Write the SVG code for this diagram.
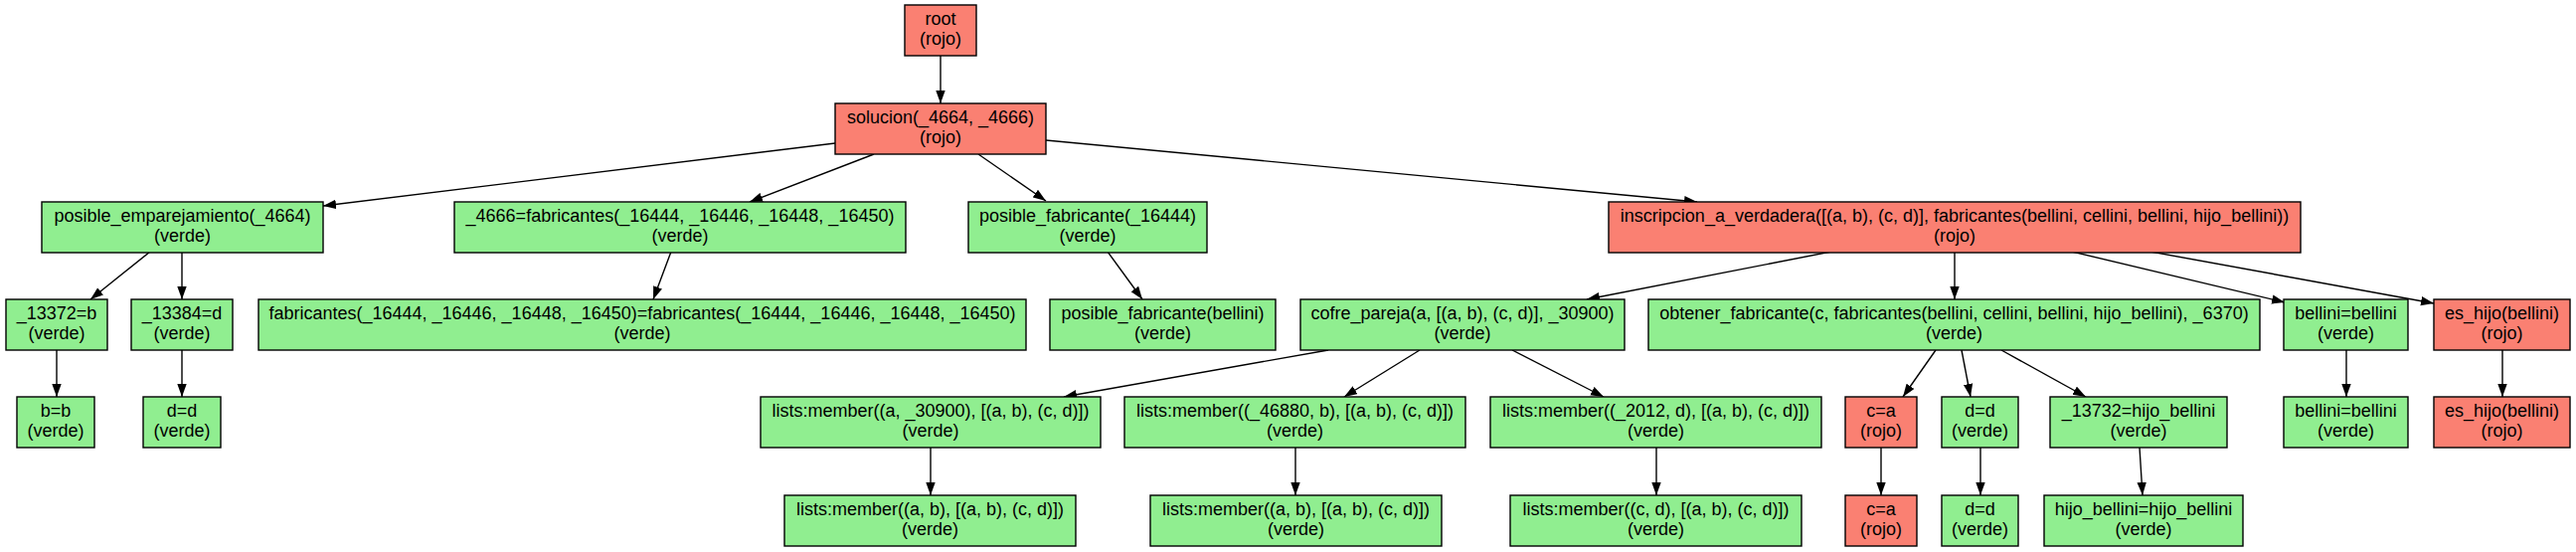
<svg xmlns="http://www.w3.org/2000/svg" width="2591" height="555" viewBox="0 0 2591 555">
<style>
.n rect{stroke:#000;stroke-width:1.4}
.g rect{fill:#90EE90}
.r rect{fill:#FA8072}
text{font-family:"Liberation Sans",Arial,sans-serif;font-size:18px;fill:#000;text-anchor:middle}
.e line{stroke:#000;stroke-width:1.4;marker-end:url(#a)}
</style>
<defs>
<marker id="a" markerUnits="userSpaceOnUse" markerWidth="14" markerHeight="10" refX="13" refY="4.7" orient="auto">
<path d="M0,0 L13,4.7 L0,9.4 z" fill="#000"/>
</marker>
</defs>
<rect width="2591" height="555" fill="#fff"/>
<g class="e">
<line x1="946" y1="56" x2="946" y2="104"/>
<line x1="840" y1="144" x2="325" y2="207"/>
<line x1="879" y1="155" x2="754" y2="203"/>
<line x1="984" y1="155" x2="1052" y2="202"/>
<line x1="1052" y1="141" x2="1707" y2="203"/>
<line x1="151" y1="253" x2="91" y2="301"/>
<line x1="183" y1="253" x2="183" y2="301"/>
<line x1="675" y1="253" x2="657" y2="301"/>
<line x1="1114" y1="253" x2="1149" y2="301"/>
<line x1="1842" y1="253" x2="1596" y2="301"/>
<line x1="1966" y1="253" x2="1966" y2="301"/>
<line x1="2084" y1="253" x2="2298" y2="304"/>
<line x1="2163" y1="253" x2="2448" y2="305"/>
<line x1="57" y1="352" x2="57" y2="399"/>
<line x1="183" y1="352" x2="183" y2="399"/>
<line x1="1336" y1="352" x2="1070" y2="399"/>
<line x1="1428" y1="352" x2="1352" y2="399"/>
<line x1="1521" y1="352" x2="1613" y2="399"/>
<line x1="1947" y1="352" x2="1914" y2="399"/>
<line x1="1973" y1="352" x2="1982" y2="399"/>
<line x1="2013" y1="352" x2="2098" y2="399"/>
<line x1="2360" y1="352" x2="2360" y2="399"/>
<line x1="2517" y1="352" x2="2517" y2="399"/>
<line x1="936" y1="450" x2="936" y2="498"/>
<line x1="1303" y1="450" x2="1303" y2="498"/>
<line x1="1666" y1="450" x2="1666" y2="498"/>
<line x1="1892" y1="450" x2="1892" y2="498"/>
<line x1="1992" y1="450" x2="1992" y2="498"/>
<line x1="2152" y1="450" x2="2155" y2="498"/>
</g>
<g id="root" class="n r"><rect x="910" y="5" width="72" height="51"/><text x="946" y="25">root</text><text x="946" y="45">(rojo)</text></g>
<g id="solucion" class="n r"><rect x="840" y="104" width="212" height="51"/><text x="946" y="124">solucion(_4664, _4666)</text><text x="946" y="144">(rojo)</text></g>
<g id="pe" class="n g"><rect x="42" y="203" width="283" height="51"/><text x="183.5" y="223">posible_emparejamiento(_4664)</text><text x="183.5" y="243">(verde)</text></g>
<g id="f4666" class="n g"><rect x="457" y="203" width="454" height="51"/><text x="684" y="223">_4666=fabricantes(_16444, _16446, _16448, _16450)</text><text x="684" y="243">(verde)</text></g>
<g id="pf16444" class="n g"><rect x="974" y="203" width="240" height="51"/><text x="1094" y="223">posible_fabricante(_16444)</text><text x="1094" y="243">(verde)</text></g>
<g id="insc" class="n r"><rect x="1618" y="203" width="696" height="51"/><text x="1966" y="223">inscripcion_a_verdadera([(a, b), (c, d)], fabricantes(bellini, cellini, bellini, hijo_bellini))</text><text x="1966" y="243">(rojo)</text></g>
<g id="n13372" class="n g"><rect x="6" y="301" width="102" height="51"/><text x="57" y="321">_13372=b</text><text x="57" y="341">(verde)</text></g>
<g id="n13384" class="n g"><rect x="132" y="301" width="102" height="51"/><text x="183" y="321">_13384=d</text><text x="183" y="341">(verde)</text></g>
<g id="fab" class="n g"><rect x="260" y="301" width="772" height="51"/><text x="646" y="321">fabricantes(_16444, _16446, _16448, _16450)=fabricantes(_16444, _16446, _16448, _16450)</text><text x="646" y="341">(verde)</text></g>
<g id="pfb" class="n g"><rect x="1056" y="301" width="227" height="51"/><text x="1169.5" y="321">posible_fabricante(bellini)</text><text x="1169.5" y="341">(verde)</text></g>
<g id="cofre" class="n g"><rect x="1308" y="301" width="326" height="51"/><text x="1471" y="321">cofre_pareja(a, [(a, b), (c, d)], _30900)</text><text x="1471" y="341">(verde)</text></g>
<g id="obt" class="n g"><rect x="1658" y="301" width="615" height="51"/><text x="1965.5" y="321">obtener_fabricante(c, fabricantes(bellini, cellini, bellini, hijo_bellini), _6370)</text><text x="1965.5" y="341">(verde)</text></g>
<g id="bb1" class="n g"><rect x="2297" y="301" width="125" height="51"/><text x="2359.5" y="321">bellini=bellini</text><text x="2359.5" y="341">(verde)</text></g>
<g id="eh1" class="n r"><rect x="2448" y="301" width="137" height="51"/><text x="2516.5" y="321">es_hijo(bellini)</text><text x="2516.5" y="341">(rojo)</text></g>
<g id="bb" class="n g"><rect x="17" y="399" width="78" height="51"/><text x="56" y="419">b=b</text><text x="56" y="439">(verde)</text></g>
<g id="dd" class="n g"><rect x="144" y="399" width="78" height="51"/><text x="183" y="419">d=d</text><text x="183" y="439">(verde)</text></g>
<g id="lm1" class="n g"><rect x="765" y="399" width="342" height="51"/><text x="936" y="419">lists:member((a, _30900), [(a, b), (c, d)])</text><text x="936" y="439">(verde)</text></g>
<g id="lm2" class="n g"><rect x="1131" y="399" width="343" height="51"/><text x="1302.5" y="419">lists:member((_46880, b), [(a, b), (c, d)])</text><text x="1302.5" y="439">(verde)</text></g>
<g id="lm3" class="n g"><rect x="1499" y="399" width="333" height="51"/><text x="1665.5" y="419">lists:member((_2012, d), [(a, b), (c, d)])</text><text x="1665.5" y="439">(verde)</text></g>
<g id="ca1" class="n r"><rect x="1856" y="399" width="72" height="51"/><text x="1892" y="419">c=a</text><text x="1892" y="439">(rojo)</text></g>
<g id="dd2" class="n g"><rect x="1953" y="399" width="77" height="51"/><text x="1991.5" y="419">d=d</text><text x="1991.5" y="439">(verde)</text></g>
<g id="h13732" class="n g"><rect x="2062" y="399" width="178" height="51"/><text x="2151" y="419">_13732=hijo_bellini</text><text x="2151" y="439">(verde)</text></g>
<g id="bb2" class="n g"><rect x="2297" y="399" width="125" height="51"/><text x="2359.5" y="419">bellini=bellini</text><text x="2359.5" y="439">(verde)</text></g>
<g id="eh2" class="n r"><rect x="2448" y="399" width="137" height="51"/><text x="2516.5" y="419">es_hijo(bellini)</text><text x="2516.5" y="439">(rojo)</text></g>
<g id="lmab1" class="n g"><rect x="789" y="498" width="293" height="51"/><text x="935.5" y="518">lists:member((a, b), [(a, b), (c, d)])</text><text x="935.5" y="538">(verde)</text></g>
<g id="lmab2" class="n g"><rect x="1157" y="498" width="293" height="51"/><text x="1303.5" y="518">lists:member((a, b), [(a, b), (c, d)])</text><text x="1303.5" y="538">(verde)</text></g>
<g id="lmcd" class="n g"><rect x="1519" y="498" width="293" height="51"/><text x="1665.5" y="518">lists:member((c, d), [(a, b), (c, d)])</text><text x="1665.5" y="538">(verde)</text></g>
<g id="ca2" class="n r"><rect x="1856" y="498" width="72" height="51"/><text x="1892" y="518">c=a</text><text x="1892" y="538">(rojo)</text></g>
<g id="dd3" class="n g"><rect x="1953" y="498" width="77" height="51"/><text x="1991.5" y="518">d=d</text><text x="1991.5" y="538">(verde)</text></g>
<g id="hb" class="n g"><rect x="2056" y="498" width="200" height="51"/><text x="2156" y="518">hijo_bellini=hijo_bellini</text><text x="2156" y="538">(verde)</text></g>
</svg>
